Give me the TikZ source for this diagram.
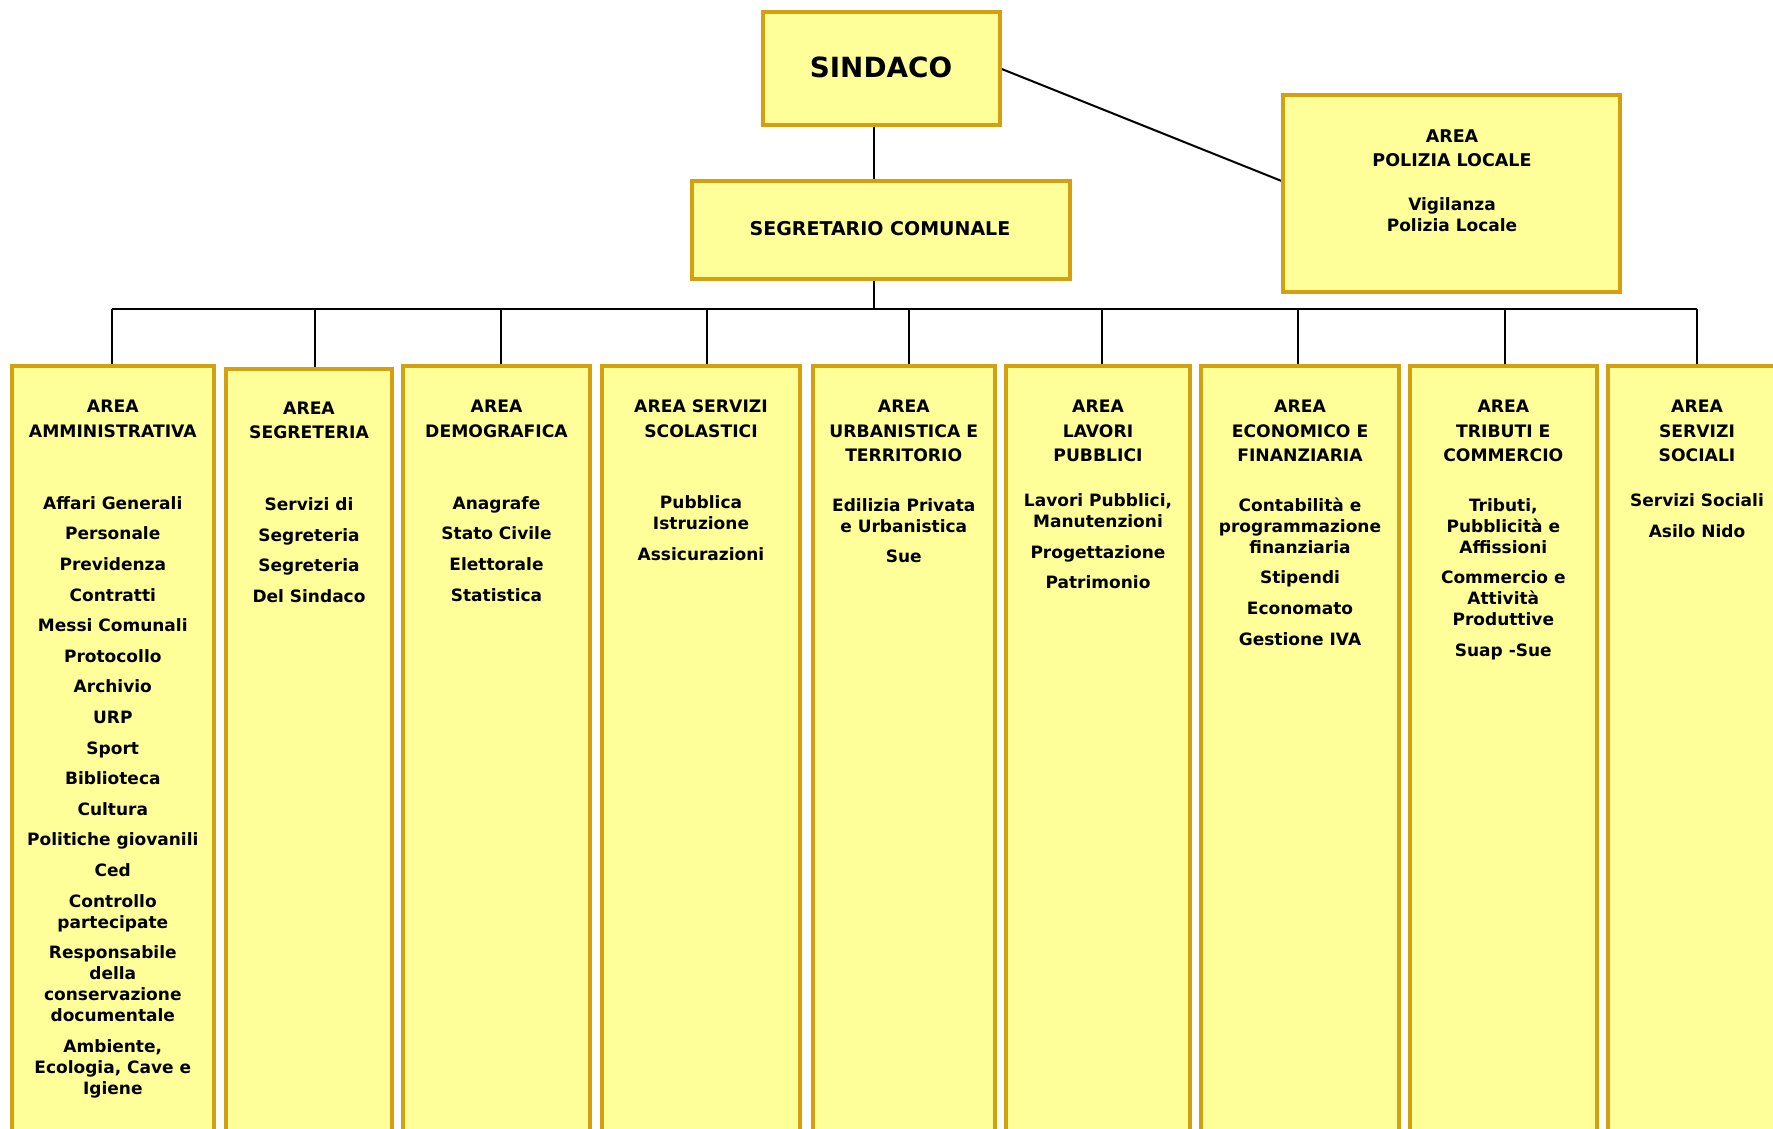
\documentclass[tikz,border=0pt]{standalone}
\usepackage{fontspec}
\setmainfont{DejaVu Sans}
\definecolor{yel}{RGB}{255,255,153}
\definecolor{gold}{RGB}{212,160,16}
\pgfdeclarelayer{bg}
\pgfsetlayers{bg,main}
\tikzset{
  box/.style={draw=gold, line width=4pt, fill=yel, inner sep=0pt, outer sep=0pt, anchor=center},
  ttl/.style={font=\fontsize{17.2}{24.6}\selectfont\bfseries, align=center, anchor=north, inner sep=0pt, outer sep=0pt},
  itm/.style={font=\fontsize{17}{21}\selectfont\bfseries, align=center, anchor=north, inner sep=0pt, outer sep=0pt},
  conn/.style={line width=2pt, draw=black}
}
\newcommand{\fs}{\rule{0pt}{14pt}}
\begin{document}
\begin{tikzpicture}[x=1pt,y=-1pt]
\useasboundingbox (0,0) rectangle (1773,1129);
\clip (0,0) rectangle (1773,1129);
% top boxes
\node[box, minimum width=237.3pt, minimum height=112.7pt] (sindaco) at (881.3,68.3) {};
\node[box, minimum width=378pt, minimum height=97.7pt] (segr) at (881,229.9) {};
\node[box, minimum width=336.6pt, minimum height=197pt] (pol) at (1451.7,193.8) {};
\node[font=\fontsize{27.8}{30}\selectfont\bfseries, anchor=base, inner sep=0pt] (tsind) at (881,77.3) {SINDACO};
\node[font=\fontsize{19}{22}\selectfont\bfseries, anchor=base, inner sep=0pt] (tsegr) at (880,235) {SEGRETARIO COMUNALE};
\node[ttl, font=\fontsize{17.5}{24}\selectfont\bfseries] (tpol) at (1452,128.7) {\fs AREA\\POLIZIA LOCALE};
\node[itm] (bpol) at (1452,196.7) {\fs Vigilanza\\Polizia Locale};
% column boxes
\node[box, minimum width=202.4pt, minimum height=900pt, anchor=north] (c1) at (112.8,366) {};
\node[box, minimum width=166pt, minimum height=900pt, anchor=north] (c2) at (309,369) {};
\node[box, minimum width=187pt, minimum height=900pt, anchor=north] (c3) at (496.5,366) {};
\node[box, minimum width=198pt, minimum height=900pt, anchor=north] (c4) at (701,366) {};
\node[box, minimum width=182.5pt, minimum height=900pt, anchor=north] (c5) at (903.75,366) {};
\node[box, minimum width=184pt, minimum height=900pt, anchor=north] (c6) at (1098,366) {};
\node[box, minimum width=198pt, minimum height=900pt, anchor=north] (c7) at (1300,366) {};
\node[box, minimum width=186.6pt, minimum height=900pt, anchor=north] (c8) at (1503.3,366) {};
\node[box, minimum width=179pt, minimum height=900pt, anchor=north] (c9) at (1697,366) {};
% titles
\node[ttl] (t1) at (112.8,398.7) {\fs AREA\\AMMINISTRATIVA};
\node[ttl] (t2) at (309,400) {\fs AREA\\SEGRETERIA};
\node[ttl] (t3) at (496.5,398.7) {\fs AREA\\DEMOGRAFICA};
\node[ttl] (t4) at (701,398.7) {\fs AREA SERVIZI\\SCOLASTICI};
\node[ttl] (t5) at (903.75,398.7) {\fs AREA\\URBANISTICA E\\TERRITORIO};
\node[ttl] (t6) at (1098,398.7) {\fs AREA\\LAVORI\\PUBBLICI};
\node[ttl] (t7) at (1300,398.7) {\fs AREA\\ECONOMICO E\\FINANZIARIA};
\node[ttl] (t8) at (1503.3,398.7) {\fs AREA\\TRIBUTI E\\COMMERCIO};
\node[ttl] (t9) at (1697,398.7) {\fs AREA\\SERVIZI\\SOCIALI};
% bodies
\node[itm] (b1) at (112.8,495.3) {\fs Affari Generali\\[9.6pt]Personale\\[9.6pt]Previdenza\\[9.6pt]Contratti\\[9.6pt]Messi Comunali\\[9.6pt]Protocollo\\[9.6pt]Archivio\\[9.6pt]URP\\[9.6pt]Sport\\[9.6pt]Biblioteca\\[9.6pt]Cultura\\[9.6pt]Politiche giovanili\\[9.6pt]Ced\\[9.6pt]Controllo\\partecipate\\[9.6pt]Responsabile\\della\\conservazione\\documentale\\[9.6pt]Ambiente,\\Ecologia, Cave e\\Igiene};
\node[itm] (b2) at (309,496.7) {\fs Servizi di\\[9.6pt]Segreteria\\[9.6pt]Segreteria\\[9.6pt]Del Sindaco};
\node[itm] (b3) at (496.5,495.3) {\fs Anagrafe\\[9.6pt]Stato Civile\\[9.6pt]Elettorale\\[9.6pt]Statistica};
\node[itm] (b4) at (701,494.7) {\fs Pubblica\\Istruzione\\[9.6pt]Assicurazioni};
\node[itm] (b5) at (903.75,497.3) {\fs Edilizia Privata\\e Urbanistica\\[9.6pt]Sue};
\node[itm] (b6) at (1098,492.7) {\fs Lavori Pubblici,\\Manutenzioni\\[9.6pt]Progettazione\\[9.6pt]Patrimonio};
\node[itm] (b7) at (1300,497.3) {\fs Contabilità e\\programmazione\\finanziaria\\[9.6pt]Stipendi\\[9.6pt]Economato\\[9.6pt]Gestione IVA};
\node[itm] (b8) at (1503.3,497.3) {\fs Tributi,\\Pubblicità e\\Affissioni\\[9.6pt]Commercio e\\Attività\\Produttive\\[9.6pt]Suap -Sue};
\node[itm] (b9) at (1697,492.7) {\fs Servizi Sociali\\[9.6pt]Asilo Nido};
% connector coordinates
\coordinate (vx) at (874,309);
\coordinate (pz) at (0,181.7);
\coordinate (d1) at (112,309);
\coordinate (d2) at (315,309);
\coordinate (d3) at (500.6,309);
\coordinate (d4) at (707,309);
\coordinate (d5) at (909.4,309);
\coordinate (d6) at (1102,309);
\coordinate (d7) at (1298,309);
\coordinate (d8) at (1504.5,309);
\coordinate (d9) at (1697,309);
\begin{pgfonlayer}{bg}
\draw[conn] (sindaco.south -| vx) -- (segr.north -| vx);
\draw[conn] (segr.south -| vx) -- (vx);
\draw[conn] (d1) -- (d9);
\foreach \i in {1,...,9}{\draw[conn] (d\i) -- (d\i |- c\i.north);}
\draw[conn] (sindaco.east) -- (pol.west |- pz);
\end{pgfonlayer}
\end{tikzpicture}
\end{document}
